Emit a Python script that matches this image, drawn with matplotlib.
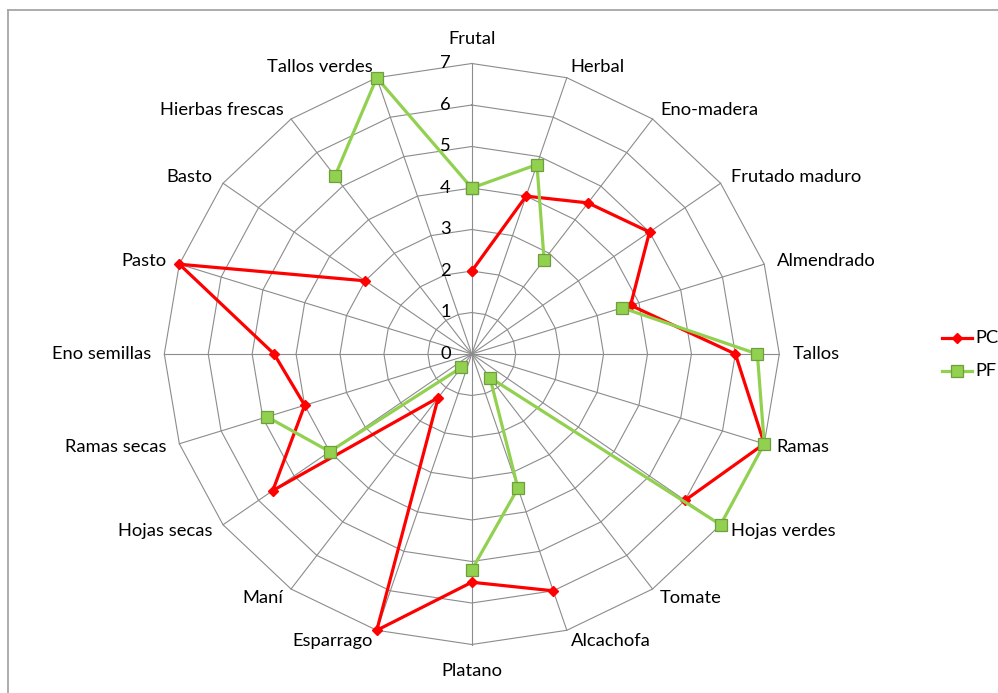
import numpy as np
import matplotlib
matplotlib.use("Agg")
import matplotlib.pyplot as plt
from matplotlib.lines import Line2D

# Aroma descriptors, clockwise from the top
categories = ["Frutal", "Herbal", "Eno-madera", "Frutado maduro", "Almendrado",
              "Tallos", "Ramas", "Hojas verdes", "Tomate", "Alcachofa",
              "Platano", "Esparrago", "Maní", "Hojas secas", "Ramas secas",
              "Eno semillas", "Pasto", "Basto", "Hierbas frescas", "Tallos verdes"]

nan = np.nan
pc = [2, 4, 4.5, 5, 3.8, 6, 7, 6, nan, 6, 5.5, 7, 1.3, 5.6, 4, 4.5, 7, 3, nan, nan]
pf = [4, 4.8, 2.8, nan, 3.6, 6.5, 7, 7, 0.7, 3.4, 5.2, nan, 0.4, 4, 4.9, nan, nan, nan, 5.3, 7]
series_names = ["PC", "PF"]
ticks = [0, 1, 2, 3, 4, 5, 6, 7]

W, H, DPI = 998, 693, 100
fig = plt.figure(figsize=(W / DPI, H / DPI), dpi=DPI)
ax = fig.add_axes([0, 0, 1, 1])
ax.set_axis_off()

# radar centre and scale in pixels (the plot area is slightly wider than tall)
cx, cy = 471.8, 354.0
sx, sy = 43.93, 41.5
ax.set_xlim(-cx / sx, (W - cx) / sx)
ax.set_ylim(-(H - cy) / sy, cy / sy)

font = ["Lato", "DejaVu Sans"]
fs = 13.2
rmax = max(ticks)
n = len(categories)
theta = np.arange(n) * 2 * np.pi / n


def xy(r, th):
    r = np.asarray(r, dtype=float)
    return r * np.sin(th), r * np.cos(th)


grid_c = "#8c8c8c"
# polygonal grid
for t in ticks[1:]:
    th = np.append(theta, theta[0])
    gx, gy = xy(np.full(th.shape, t), th)
    ax.plot(gx, gy, color=grid_c, lw=0.8, zorder=1)
# spokes
for th in theta:
    sxp, syp = xy([0, rmax], th)
    ax.plot(sxp, syp, color=grid_c, lw=0.8, zorder=1)

# value labels along the top spoke
for t in ticks:
    ax.annotate(str(t), (0, t), xytext=(-21, 0), textcoords="offset pixels",
                ha="right", va="center", fontsize=fs, family=font, color="#000000")

# category labels
for lab, th in zip(categories, theta):
    vx, vy = xy(rmax, th)
    s, c = np.sin(th), np.cos(th)
    if abs(s) < 1e-6:
        ha = "center"
        dx = 0
        dy = 24 if c > 0 else -27
    else:
        ha = "left" if s > 0 else "right"
        dx = 13 * s
        dy = 11 * c
    ax.annotate(lab, (vx, vy), xytext=(dx, dy), textcoords="offset pixels",
                ha=ha, va="center", fontsize=fs, family=font, color="#000000")

# series (NaN leaves a gap, the last point joins back to the first)
styles = [
    dict(color="#ff0000", lw=2.3, marker="D", markersize=5,
         markerfacecolor="#ff0000", markeredgecolor="#ff0000", zorder=3),
    dict(color="#92d050", lw=2.3, marker="s", markersize=9,
         markerfacecolor="#92d050", markeredgecolor="#6f9f3c", markeredgewidth=0.9,
         zorder=4),
]
th_c = np.append(theta, theta[0])
for vals, st in zip([pc, pf], styles):
    px, py = xy(np.append(vals, vals[0]), th_c)
    ax.plot(px, py, **st)

# legend, drawn in figure pixels
for i, (name, st) in enumerate(zip(series_names, styles)):
    ly = 1 - (338 + 33 * i) / H
    fig.add_artist(Line2D([942 / W, 972 / W], [ly, ly], transform=fig.transFigure,
                          color=st["color"], lw=st["lw"]))
    mk = {k: v for k, v in st.items() if k.startswith("marker")}
    fig.add_artist(Line2D([957 / W], [ly], transform=fig.transFigure,
                          linestyle="none", **mk))
    fig.text(975 / W, ly, name, ha="left", va="center", fontsize=fs,
             family=font, color="#000000")

# chart-area border (top and left edges)
bc = "#a6a6a6"
fig.add_artist(Line2D([8 / W, 1], [1 - 10 / H, 1 - 10 / H], transform=fig.transFigure,
                      color=bc, lw=1.3))
fig.add_artist(Line2D([8 / W, 8 / W], [0, 1 - 10 / H], transform=fig.transFigure,
                      color=bc, lw=1.3))

fig.savefig("out.png", dpi=DPI, facecolor="white")
